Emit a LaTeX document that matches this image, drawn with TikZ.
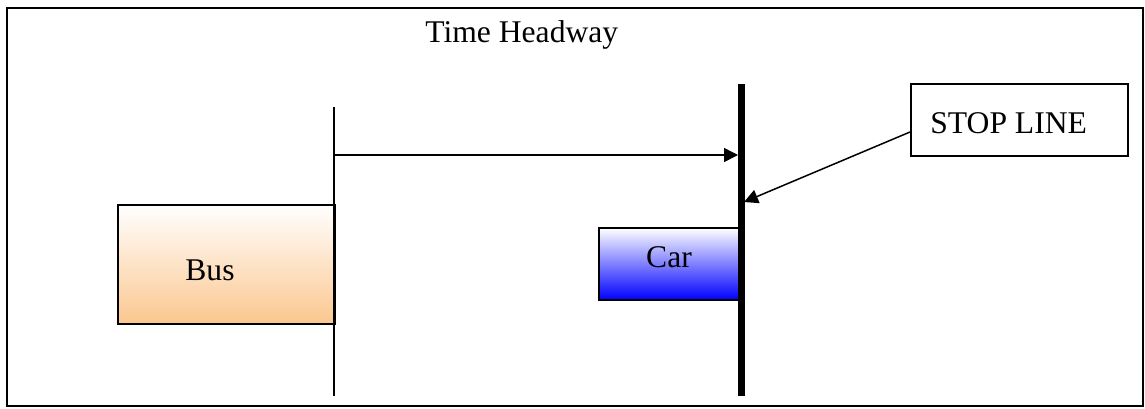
\documentclass[tikz,border=0pt]{standalone}
\usepackage{fontspec}
\setmainfont{Liberation Serif}
\usetikzlibrary{arrows.meta}
\definecolor{busorange}{HTML}{FBC78F}
\definecolor{carblue}{HTML}{0000FF}
\tikzset{
  frame/.style={draw=black, line width=1pt},
  vehicle/.style={draw=black, line width=0.8pt, rectangle, inner sep=0pt, anchor=north west},
  label text/.style={font=\fontsize{15.8pt}{18pt}\selectfont, inner sep=0pt},
  thin line/.style={line width=0.75pt},
  pointer/.style={line width=0.75pt, -{Triangle[length=7pt,width=7pt]}},
  stopline/.style={line width=3.5pt}
}
\begin{document}
\begin{tikzpicture}[x=0.5pt,y=-0.5pt]
  \useasboundingbox (0,0) rectangle (1145,408);
  % outer frame
  \draw[frame] (7,8) rectangle (1143,406);
  % title
  \node[label text, anchor=base west] (title) at (425,42) {Time Headway};
  % bus and car
  \node[vehicle, top color=white, bottom color=busorange,
        minimum width=108.5pt, minimum height=59.5pt] (bus) at (117,204) {};
  \node[label text, anchor=base] (bustext) at (210,280) {Bus};
  \node[vehicle, top color=white, bottom color=carblue,
        minimum width=71.5pt, minimum height=36pt] (car) at (598,227) {};
  \node[label text, anchor=base] (cartext) at (669,267) {Car};
  % headway reference line at the bus front
  \coordinate (h top) at (334,107);
  \coordinate (h bottom) at (334,396);
  \coordinate (h arrow) at (334,155);
  \draw[thin line] (h top) -- (h bottom);
  % stop line
  \coordinate (s top) at (741,84);
  \coordinate (s bottom) at (741,396);
  \coordinate (s arrow) at (738,155);
  \coordinate (s pointer) at (744,202);
  \draw[stopline] (s top) -- (s bottom);
  % headway arrow
  \draw[pointer] (h arrow) -- (s arrow);
  % stop line callout
  \node[draw=black, line width=0.75pt, rectangle, anchor=north west,
        minimum width=108.5pt, minimum height=36pt, inner sep=0pt] (stopbox) at (910,83) {};
  \node[label text, anchor=base west] (stoptext) at (930,133) {STOP LINE};
  \coordinate (callout start) at (910,132);
  \draw[pointer] (callout start) -- (s pointer);
\end{tikzpicture}
\end{document}
